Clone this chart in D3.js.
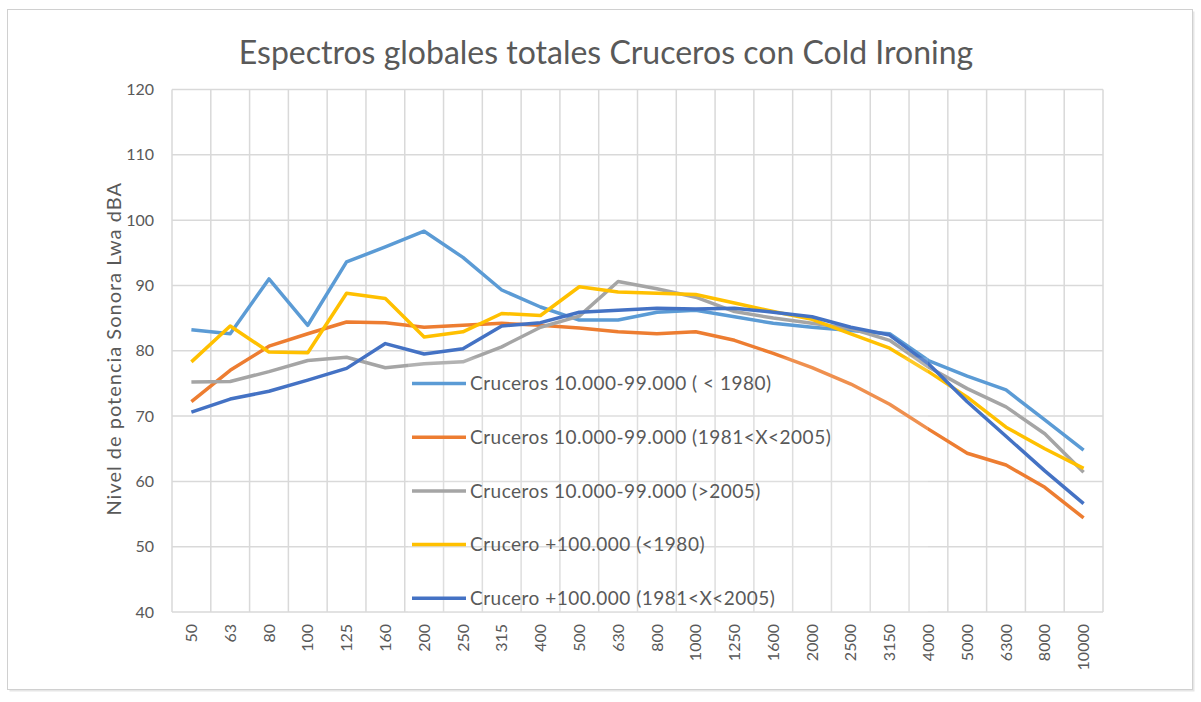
<!DOCTYPE html>
<html>
<head>
<meta charset="utf-8">
<script src="https://cdn.jsdelivr.net/npm/d3@7"></script>
<style>
  body { margin: 0; background: #fff; }
  svg { display: block; font-family: Lato, "Open Sans", sans-serif; }
</style>
</head>
<body>
<div id="chart-area"></div>
<script>
    // frequencies (Hz) on the x axis
    var categories = ['50', '63', '80', '100', '125', '160', '200', '250', '315', '400', '500', '630', '800',
      '1000', '1250', '1600', '2000', '2500', '3150', '4000', '5000', '6300', '8000', '10000'];

    var seriesNames = [
      'Cruceros 10.000-99.000 ( < 1980)',
      'Cruceros 10.000-99.000 (1981<X<2005)',
      'Cruceros 10.000-99.000 (>2005)',
      'Crucero +100.000 (<1980)',
      'Crucero +100.000 (1981<X<2005)'
    ];

    var cruceros1980 = [83.2, 82.6, 91.0, 83.9, 93.6, 95.9, 98.3, 94.3, 89.3, 86.7, 84.7, 84.7,
      85.9, 86.2, 85.2, 84.2, 83.6, 83.1, 82.6, 78.5, 76.1, 74.0, 69.4, 64.8];
    var cruceros1981 = [72.2, 77.0, 80.7, 82.6, 84.4, 84.3, 83.6, 83.9, 84.2, 83.9, 83.5, 82.9,
      82.6, 82.9, 81.6, 79.6, 77.4, 74.9, 71.8, 68.0, 64.3, 62.5, 59.1, 54.4];
    var cruceros2005 = [75.2, 75.3, 76.8, 78.5, 79.0, 77.4, 78.0, 78.3, 80.6, 83.6, 85.3, 90.6,
      89.5, 88.2, 86.0, 85.0, 84.2, 83.4, 81.6, 77.5, 74.2, 71.4, 67.3, 61.4];
    var crucero100k1980 = [78.3, 83.8, 79.8, 79.7, 88.8, 88.0, 82.1, 82.9, 85.7, 85.4, 89.8, 89.0,
      88.8, 88.6, 87.3, 86.0, 84.8, 82.6, 80.4, 76.8, 72.9, 68.3, 65.0, 62.0];
    var crucero100k1981 = [70.6, 72.6, 73.8, 75.5, 77.3, 81.1, 79.5, 80.3, 83.8, 84.3, 85.9, 86.2,
      86.5, 86.4, 86.5, 85.9, 85.2, 83.6, 82.4, 78.0, 72.2, 66.9, 61.6, 56.6];

    var yTicks = [40, 50, 60, 70, 80, 90, 100, 110, 120];

    var colors = ['#5B9BD5', '#ED7D31', '#A5A5A5', '#FFC000', '#4472C4'];
    var allSeries = [cruceros1980, cruceros1981, cruceros2005, crucero100k1980, crucero100k1981];

    var W = 1201, H = 702;
    var margin = { left: 172, right: 98, top: 89.5, bottom: 90 };
    var width = W - margin.left - margin.right;
    var height = H - margin.top - margin.bottom;
    var textColor = '#595959';
    var gridColor = '#d9d9d9';

    var svg = d3.select('#chart-area')
      .append('svg')
      .attr('width', W)
      .attr('height', H);

    // outer chart frame
    svg.append('rect')
      .attr('x', 9.5).attr('y', 11.5)
      .attr('width', 1185).attr('height', 680)
      .attr('fill', '#e6e6e6');
    svg.append('rect')
      .attr('x', 7.5).attr('y', 9.5)
      .attr('width', 1185).attr('height', 680)
      .attr('fill', '#fff')
      .attr('stroke', '#d0d0d0');

    svg.append('text')
      .attr('x', 606)
      .attr('y', 64)
      .attr('text-anchor', 'middle')
      .attr('font-size', '32px')
      .attr('fill', textColor)
      .text('Espectros globales totales Cruceros con Cold Ironing');

    const g = svg.append('g').attr('transform', `translate(${margin.left},${margin.top})`);

    var xScale = d3.scaleBand()
      .domain(categories)
      .range([0, width])
      .padding(0);

    var yScale = d3.scaleLinear()
      .domain([40, 120])
      .range([height, 0]);

    // horizontal grid
    g.selectAll('.hgrid')
      .data(yTicks)
      .enter().append('line')
      .attr('class', 'hgrid')
      .attr('x1', 0).attr('x2', width)
      .attr('y1', (d) => yScale(d)).attr('y2', (d) => yScale(d))
      .attr('stroke', gridColor).attr('stroke-width', 1.5);

    // vertical grid on category boundaries
    var bounds = categories.map((c) => xScale(c)).concat([width]);
    g.selectAll('.vgrid')
      .data(bounds)
      .enter().append('line')
      .attr('class', 'vgrid')
      .attr('x1', (d) => d).attr('x2', (d) => d)
      .attr('y1', 0).attr('y2', height)
      .attr('stroke', gridColor).attr('stroke-width', 1.5);

    var yAxisCall = d3.axisLeft(yScale).tickValues(yTicks).tickSize(0).tickPadding(18);
    var yAxis = g.append('g').attr('class', 'y axis').call(yAxisCall);
    yAxis.select('.domain').remove();
    yAxis.selectAll('text').attr('font-size', '16px').attr('fill', textColor).attr('font-family', 'Lato, sans-serif');

    var xAxisCall = d3.axisBottom(xScale).tickSize(0);
    var xAxis = g.append('g')
      .attr('class', 'x axis')
      .attr('transform', `translate(0, ${height})`)
      .call(xAxisCall);
    xAxis.select('.domain').remove();
    xAxis.selectAll('text')
      .attr('transform', 'rotate(-90)')
      .attr('text-anchor', 'end')
      .attr('dy', '0.35em')
      .attr('x', -12)
      .attr('y', 0)
      .attr('font-size', '16px')
      .attr('fill', textColor)
      .attr('font-family', 'Lato, sans-serif');

    svg.append('text')
      .attr('transform', 'rotate(-90)')
      .attr('x', -(margin.top + height / 2) + 2)
      .attr('y', 121)
      .attr('text-anchor', 'middle')
      .attr('font-size', '20px')
      .attr('letter-spacing', '1px')
      .attr('fill', textColor)
      .text('Nivel de  potencia Sonora Lwa dBA');

    var line = d3.line()
      .x((d, i) => xScale(categories[i]) + xScale.bandwidth() / 2)
      .y((d) => yScale(d));

    allSeries.forEach((s, i) => {
      g.append('path')
        .datum(s)
        .attr('fill', 'none')
        .attr('stroke', colors[i])
        .attr('stroke-width', 3.5)
        .attr('stroke-linejoin', 'round')
        .attr('d', line);
    });

    // legend sits inside the plot area
    const legend = g.append('g').attr('transform', `translate(${236}, ${268})`);
    legend.append('rect')
      .attr('x', 0).attr('y', 0)
      .attr('width', 520).attr('height', height - 268)
      .attr('fill', '#fff').attr('opacity', 0.15);

    seriesNames.forEach((name, i) => {
      const legendRow = legend.append('g').attr('transform', `translate(0, ${26 + i * 53.7})`);
      legendRow.append('line')
        .attr('x1', 4).attr('x2', 58)
        .attr('y1', 0).attr('y2', 0)
        .attr('stroke', colors[i]).attr('stroke-width', 3.5);
      legendRow.append('text')
        .attr('x', 62).attr('y', 0).attr('dy', '0.35em')
        .attr('font-size', '19px')
        .attr('letter-spacing', '0.5px')
        .attr('fill', textColor)
        .text(name);
    });
</script>
</body>
</html>
